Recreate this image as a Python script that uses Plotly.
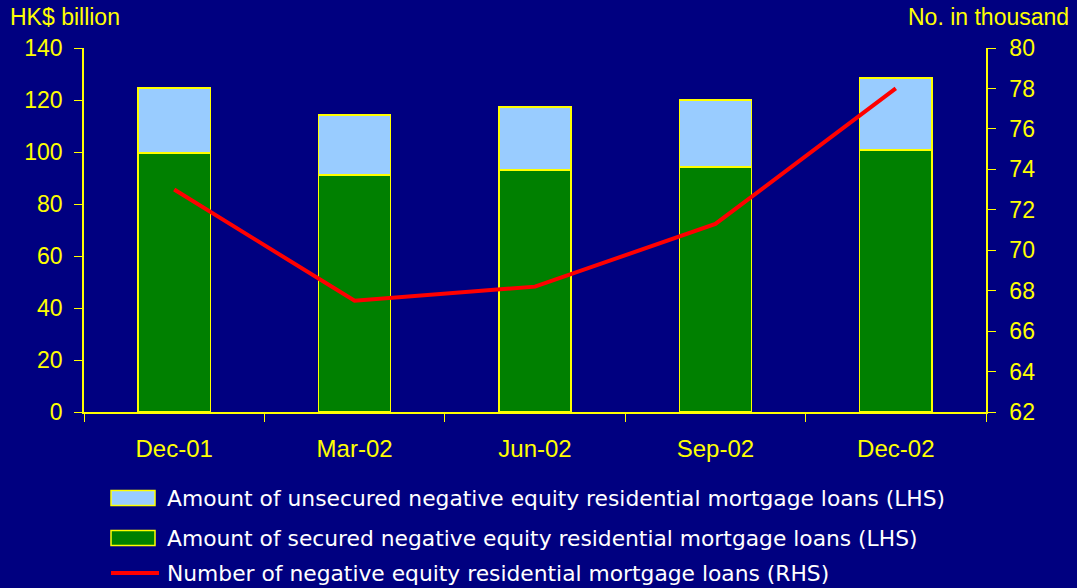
import plotly.graph_objects as go

# data
quarters = ["Dec-01", "Mar-02", "Jun-02", "Sep-02", "Dec-02"]
secured = [99.6, 91.2, 93.1, 94.2, 100.8]
unsecured = [25.0, 23.0, 24.2, 25.8, 27.7]
loan_count = [73.0, 67.5, 68.2, 71.3, 78.0]

names = {
    "unsecured": "Amount of unsecured negative equity residential mortgage loans (LHS)",
    "secured": "Amount of secured negative equity residential mortgage loans (LHS)",
    "count": "Number of negative equity residential mortgage loans (RHS)",
}

BG = "#000080"
YELLOW = "#FFFF00"
GREEN = "#008000"
LIGHTBLUE = "#99CCFF"
RED = "#FF0000"
FONT = "Liberation Sans, Arial, sans-serif"

W, H = 1077, 588
ML, MR, MT, MB = 84, 91, 48, 176
PW, PH = W - ML - MR, H - MT - MB


def px_x(x):
    return (x - ML) / PW


def px_y(y):
    return (H - MB - y) / PH


fig = go.Figure()

fig.add_trace(go.Bar(
    x=quarters, y=secured, name=names["secured"],
    marker=dict(color=GREEN, line=dict(color=YELLOW, width=1.5)),
))
fig.add_trace(go.Bar(
    x=quarters, y=unsecured, name=names["unsecured"],
    marker=dict(color=LIGHTBLUE, line=dict(color=YELLOW, width=1.5)),
))
fig.add_trace(go.Scatter(
    x=quarters, y=loan_count, yaxis="y2", mode="lines", name=names["count"],
    line=dict(color=RED, width=4),
))

# legend drawn by hand to get the wide swatches of the original
legend_rows = [
    ("unsecured", LIGHTBLUE, 498),
    ("secured", GREEN, 538),
    ("count", RED, 573),
]
shapes = []
annotations = []
for key, color, yc in legend_rows:
    if key == "count":
        shapes.append(dict(type="line", xref="paper", yref="paper",
                           x0=px_x(111), x1=px_x(159), y0=px_y(yc), y1=px_y(yc),
                           line=dict(color=color, width=4)))
    else:
        shapes.append(dict(type="rect", xref="paper", yref="paper",
                           x0=px_x(111), x1=px_x(155), y0=px_y(yc - 7.5), y1=px_y(yc + 7.5),
                           fillcolor=color, line=dict(color=YELLOW, width=1.5)))
    annotations.append(dict(text=names[key], xref="paper", yref="paper",
                            x=px_x(165), y=px_y(yc), xanchor="left", yanchor="middle",
                            showarrow=False,
                            font=dict(color="white", size=21.8, family="DejaVu Sans, sans-serif")))

annotations += [
    dict(text="HK$ billion", xref="paper", yref="paper", x=px_x(8), y=px_y(17),
         xanchor="left", yanchor="middle", showarrow=False, font=dict(size=23)),
    dict(text="No. in thousand", xref="paper", yref="paper", x=px_x(1071), y=px_y(17),
         xanchor="right", yanchor="middle", showarrow=False, font=dict(size=23)),
]

fig.update_layout(
    width=W, height=H,
    paper_bgcolor=BG, plot_bgcolor=BG,
    font=dict(family=FONT, color=YELLOW, size=23),
    margin=dict(l=ML, r=MR, t=MT, b=MB),
    barmode="stack", bargap=0.6,
    showlegend=False,
    xaxis=dict(
        showline=True, linecolor=YELLOW, linewidth=1.5,
        ticks="outside", tickson="boundaries", ticklen=8, tickcolor=YELLOW,
        showgrid=False, tickfont=dict(size=24), ticklabelstandoff=14,
    ),
    yaxis=dict(
        range=[0, 140], dtick=20, showline=True, linecolor=YELLOW, linewidth=1.5,
        ticks="outside", ticklen=8, tickcolor=YELLOW, showgrid=False,
        zeroline=False, tickfont=dict(size=23), ticklabelstandoff=7,
    ),
    yaxis2=dict(
        range=[62, 80], dtick=2, overlaying="y", side="right",
        showline=True, linecolor=YELLOW, linewidth=1.5,
        ticks="outside", ticklen=8, tickcolor=YELLOW, showgrid=False,
        zeroline=False, tickfont=dict(size=23), ticklabelstandoff=9,
    ),
    shapes=shapes,
    annotations=annotations,
)

fig.write_html("out.html", config={"displayModeBar": False},
               post_script="document.body.style.margin='0px';")
